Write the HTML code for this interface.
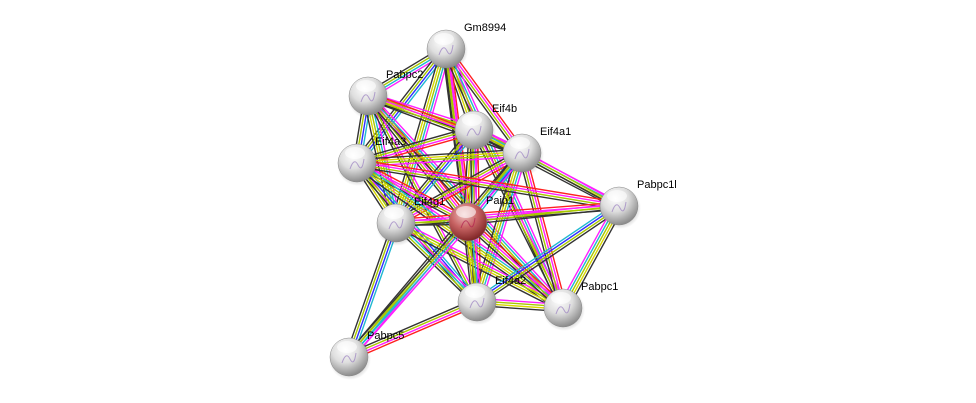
<!DOCTYPE html>
<html><head><meta charset="utf-8"><style>
html,body{margin:0;padding:0;background:#fff;width:976px;height:403px;overflow:hidden}
svg{display:block}
text{font-family:"Liberation Sans",sans-serif;font-size:11px;fill:#000}
</style></head><body>
<svg id="s" width="976" height="403" viewBox="0 0 976 403" xmlns="http://www.w3.org/2000/svg">
<defs>
<radialGradient id="gw" cx="40%" cy="30%" r="70%">
<stop offset="0" stop-color="#ffffff"/><stop offset="0.5" stop-color="#dedede"/><stop offset="1" stop-color="#8c8c8c"/>
</radialGradient>
<radialGradient id="gr" cx="40%" cy="30%" r="70%">
<stop offset="0" stop-color="#f0c0c0"/><stop offset="0.5" stop-color="#c86464"/><stop offset="1" stop-color="#802626"/>
</radialGradient>
<radialGradient id="sh" cx="50%" cy="50%" r="50%">
<stop offset="0.6" stop-color="#000" stop-opacity="0.25"/><stop offset="1" stop-color="#000" stop-opacity="0"/>
</radialGradient>
</defs>
<g id="edges"></g>
<g id="nodes"></g>
<g id="labels"></g>
</svg>
<script>
var N={
Gm8994:[446,49],Pabpc2:[368,96],Eif4b:[474,130],Eif4a1:[522,153],Eif4a3:[357,163],
Pabpc1l:[619,206],Eif4g1:[396,223],Paip1:[468,222],Eif4a2:[477,302],Pabpc1:[563,308],Pabpc5:[349,357]};
var E=[
["Gm8994","Pabpc2"],["Gm8994","Eif4b"],["Gm8994","Eif4a1"],["Gm8994","Eif4a3"],["Gm8994","Eif4g1"],["Gm8994","Paip1"],["Gm8994","Eif4a2"],["Gm8994","Pabpc1"],
["Pabpc2","Eif4b"],["Pabpc2","Eif4a1"],["Pabpc2","Eif4a3"],["Pabpc2","Eif4g1"],["Pabpc2","Paip1"],["Pabpc2","Eif4a2"],["Pabpc2","Pabpc1"],
["Eif4b","Eif4a1"],["Eif4b","Eif4a3"],["Eif4b","Eif4g1"],["Eif4b","Paip1"],["Eif4b","Eif4a2"],["Eif4b","Pabpc1"],["Eif4b","Pabpc1l"],
["Eif4a1","Eif4a3"],["Eif4a1","Eif4g1"],["Eif4a1","Paip1"],["Eif4a1","Eif4a2"],["Eif4a1","Pabpc1"],["Eif4a1","Pabpc1l"],["Eif4a1","Pabpc5"],
["Eif4a3","Eif4g1"],["Eif4a3","Paip1"],["Eif4a3","Eif4a2"],["Eif4a3","Pabpc1"],["Eif4a3","Pabpc1l"],
["Eif4g1","Paip1"],["Eif4g1","Eif4a2"],["Eif4g1","Pabpc1"],["Eif4g1","Pabpc1l"],["Eif4g1","Pabpc5"],
["Paip1","Eif4a2"],["Paip1","Pabpc1"],["Paip1","Pabpc1l"],["Paip1","Pabpc5"],
["Eif4a2","Pabpc1"],["Eif4a2","Pabpc5"],["Eif4a2","Pabpc1l"],["Pabpc1","Pabpc1l"]];
var C=["#ff2020","#ff20ff","#20b8d0","#3030ff","#a8c800","#d8d800","#333333"];
var sets=[[1,2,4,6],[1,4,5,6],[0,1,4,6],[2,3,4,6],[1,2,4,5,6],[0,1,4,6],[1,4,6]];
var eg=document.getElementById("edges"),h="";
E.forEach(function(e,i){
 var a=N[e[0]],b=N[e[1]],dx=b[0]-a[0],dy=b[1]-a[1],L=Math.hypot(dx,dy),px=-dy/L,py=dx/L;
 var s=sets[i%sets.length],n=s.length;
 s.forEach(function(c,k){var o=(k-(n-1)/2)*2.4;
  h+='<line x1="'+(a[0]+px*o)+'" y1="'+(a[1]+py*o)+'" x2="'+(b[0]+px*o)+'" y2="'+(b[1]+py*o)+'" stroke="'+C[c]+'" stroke-width="1.4"/>';});
});
eg.innerHTML=h;
var ng=document.getElementById("nodes"),lg=document.getElementById("labels");h="";var t="";
for(var k in N){var p=N[k];
 h+='<circle cx="'+(p[0]+1)+'" cy="'+(p[1]+2)+'" r="21" fill="url(#sh)"/>';
 h+='<circle cx="'+p[0]+'" cy="'+p[1]+'" r="19" fill="url('+(k=="Paip1"?"#gr":"#gw")+')" stroke="#888" stroke-width="0.5"/>';
 h+='<ellipse cx="'+(p[0]-2)+'" cy="'+(p[1]-10)+'" rx="10" ry="6" fill="#fff" opacity="0.6"/>';
 h+='<path d="M'+(p[0]-7)+' '+(p[1]+6)+' q4 -12 8 -4 t6 -6" stroke="'+(k=="Paip1"?"#b02050":"#9a80c0")+'" fill="none" stroke-width="1" opacity="0.7"/>';
 t+='<text x="'+(p[0]+18)+'" y="'+(p[1]-18)+'">'+k+'</text>';}
ng.innerHTML=h;lg.innerHTML=t;
</script>
</body></html>
